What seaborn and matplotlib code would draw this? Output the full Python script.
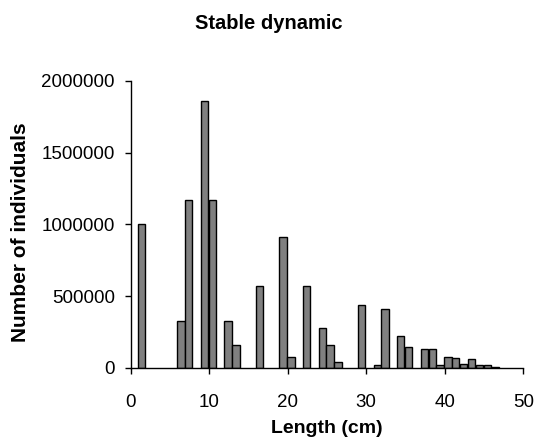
import numpy as np
import matplotlib
matplotlib.use("Agg")
import matplotlib.pyplot as plt
import seaborn as sns

# length classes (cm) and number of individuals
lengths = np.array([1, 6, 7, 9, 10, 12, 13, 16, 19, 20, 22, 24, 25, 26, 29,
                    31, 32, 34, 35, 37, 38, 39, 40, 41, 42, 43, 44, 45, 46])
counts = np.array([1000000, 330000, 1170000, 1860000, 1170000, 330000, 160000,
                   570000, 910000, 75000, 570000, 275000, 160000, 40000, 440000,
                   20000, 410000, 220000, 145000, 135000, 135000, 20000, 80000,
                   72000, 30000, 60000, 20000, 20000, 8000])

title = "Stable dynamic"
x_label = "Length (cm)"
y_label = "Number of individuals"
x_ticks = [0, 10, 20, 30, 40, 50]
y_ticks = [0, 500000, 1000000, 1500000, 2000000]

sns.set_style("ticks")
plt.rcParams['font.family'] = ['Liberation Sans', 'DejaVu Sans']
plt.rcParams['text.color'] = 'black'
plt.rcParams['axes.labelcolor'] = 'black'

W, H = 537, 437
fig = plt.figure(figsize=(W / 100, H / 100), dpi=100)
ax = fig.add_axes([0.2434, 0.1579, 0.7311, 0.6574])

# bars sit just right of each length mark, like the original class bars
sns.barplot(x=lengths + 0.4, y=counts, native_scale=True, width=0.93,
            color="#808080", saturation=1, edgecolor="black", linewidth=1,
            ax=ax)

ax.set_xlim(0, 50)
ax.set_ylim(0, 2000000)
ax.set_xticks(x_ticks)
ax.set_xticklabels([str(t) for t in x_ticks])
ax.set_yticks(y_ticks)
ax.set_yticklabels([str(t) for t in y_ticks])

sns.despine(ax=ax)
for sp in ["left", "bottom"]:
    ax.spines[sp].set_linewidth(1)
    ax.spines[sp].set_color("black")
ax.tick_params(axis="both", direction="out", length=4.5, width=1,
               color="black", labelsize=13.5, labelcolor="black")
ax.tick_params(axis="x", pad=14)
ax.tick_params(axis="y", pad=7)

ax.set_xlabel(x_label, fontsize=14, fontweight="bold", va="baseline")
ax.xaxis.set_label_coords(0.5, 1 - 433 / H, transform=fig.transFigure)
ax.xaxis.label.set_x(327 / W)
ax.set_ylabel(y_label, fontsize=15, fontweight="bold", va="center")
ax.yaxis.set_label_coords(20.5 / W, 1 - 232 / H, transform=fig.transFigure)

fig.text(0.5, 1 - 29 / H, title, ha="center", va="baseline",
         fontsize=14.5, fontweight="bold")

fig.savefig("out.png", dpi=100, facecolor="white")
